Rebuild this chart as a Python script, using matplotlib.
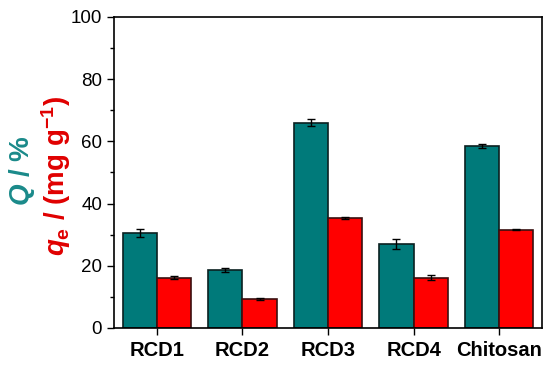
import numpy as np
import matplotlib
matplotlib.use('Agg')
import matplotlib.pyplot as plt
from matplotlib.ticker import MultipleLocator

plt.rcParams['font.family'] = ['Liberation Sans', 'DejaVu Sans']
plt.rcParams['mathtext.fontset'] = 'custom'
plt.rcParams['mathtext.rm'] = 'Liberation Sans:bold'
plt.rcParams['mathtext.it'] = 'Liberation Sans:bold:italic'
plt.rcParams['mathtext.bf'] = 'Liberation Sans:bold'

# data
samples = ['RCD1', 'RCD2', 'RCD3', 'RCD4', 'Chitosan']
Q = [30.5, 18.6, 66.0, 27.0, 58.5]
Q_err = [1.3, 0.6, 1.2, 1.5, 0.7]
qe = [16.1, 9.3, 35.3, 16.1, 31.6]
qe_err = [0.5, 0.2, 0.3, 0.8, 0.2]

teal = '#007A7A'
red = '#FF0000'

fig = plt.figure(figsize=(5.5, 3.65), dpi=100)
ax = fig.add_axes([114/550, 1-328/365, 428/550, 311/365])

x = np.arange(len(samples))
w = 0.4
ax.bar(x - w/2, Q, w, yerr=Q_err, color=teal, edgecolor='#0a2020', linewidth=1.2,
       error_kw=dict(ecolor='black', elinewidth=1, capsize=3, capthick=1))
ax.bar(x + w/2, qe, w, yerr=qe_err, color=red, edgecolor='#3a1010', linewidth=1.2,
       error_kw=dict(ecolor='black', elinewidth=1, capsize=3, capthick=1))

ax.set_xlim(-0.5, 4.5)
ax.set_ylim(0, 100)
ax.set_xticks(x)
ax.set_xticklabels(samples, fontsize=14.5, fontweight='bold')
ax.yaxis.set_major_locator(MultipleLocator(20))
ax.yaxis.set_minor_locator(MultipleLocator(10))
ax.tick_params(axis='y', labelsize=13.5, direction='out', length=5, width=1)
ax.tick_params(axis='y', which='minor', direction='out', length=3, width=1)
ax.tick_params(axis='x', direction='out', length=5, width=1, pad=4)
for s in ax.spines.values():
    s.set_linewidth(1.2)

# two coloured y-axis label lines
fig.text(22/550, 1-171/365, r'$\mathit{Q}$ / %', rotation=90, color='#1a8a8a',
         fontsize=20, fontweight='bold', ha='center', va='center')
fig.text(56/550, 1-176/365, r'$\mathit{q}_\mathrm{e}$ / (mg g$^{-1}$)', rotation=90,
         color='#E00000', fontsize=20, fontweight='bold', ha='center', va='center')

plt.savefig('out.png', dpi=100)
